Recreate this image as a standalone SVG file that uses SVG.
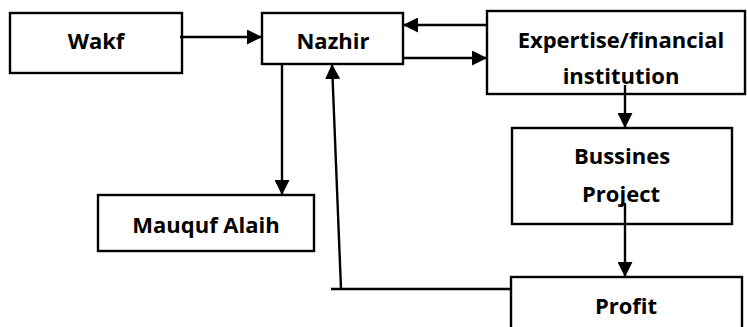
<svg xmlns="http://www.w3.org/2000/svg" width="747" height="327" viewBox="0 0 747 327">
<defs>
<style>
.box{fill:#fff;stroke:#000;stroke-width:2.4}
.lbl{font-family:"Open Sans","Liberation Sans",sans-serif;font-weight:bold;font-size:22px;text-anchor:middle;fill:#000}
.con{fill:none;stroke:#000;stroke-width:2.4}
</style>
<marker id="ah" markerUnits="userSpaceOnUse" markerWidth="15" markerHeight="15" viewBox="0 0 15 15" refX="15" refY="7.5" orient="auto">
<path d="M0,0 L15,7.5 L0,15 Z" fill="#000"/>
</marker>
</defs>
<rect width="747" height="327" fill="#fff"/>
<g id="wakf"><rect class="box" x="10" y="13" width="172" height="60"/><text class="lbl" x="96" y="49">Wakf</text></g>
<g id="nazhir"><rect class="box" x="262" y="13" width="141" height="51"/><text class="lbl" x="333" y="49">Nazhir</text></g>
<g id="expertise"><rect class="box" x="487" y="11" width="258" height="83"/><text class="lbl" x="621" y="48">Expertise/financial</text><text class="lbl" x="621" y="84">institution</text></g>
<g id="mauquf"><rect class="box" x="98" y="195" width="216" height="56"/><text class="lbl" x="206" y="233">Mauquf Alaih</text></g>
<g id="bussines"><rect class="box" x="512" y="128" width="220" height="96"/><text class="lbl" x="622" y="164">Bussines</text><text class="lbl" x="621" y="202">Project</text></g>
<g id="profit"><rect class="box" x="511" y="277" width="231" height="70"/><text class="lbl" x="626" y="314">Profit</text></g>
<g id="connectors">
<path class="con" d="M180,37 L262,37" marker-end="url(#ah)"/>
<path class="con" d="M487,25 L403,25" marker-end="url(#ah)"/>
<path class="con" d="M403,58 L487,58" marker-end="url(#ah)"/>
<path class="con" d="M282,64 L282,195" marker-end="url(#ah)"/>
<path class="con" d="M625,85 L625,128" marker-end="url(#ah)"/>
<path class="con" d="M625,203 L625,277" marker-end="url(#ah)"/>
<path class="con" d="M511,289 L331,289"/>
<path class="con" d="M341,289 L332,64" marker-end="url(#ah)"/>
</g>
</svg>
